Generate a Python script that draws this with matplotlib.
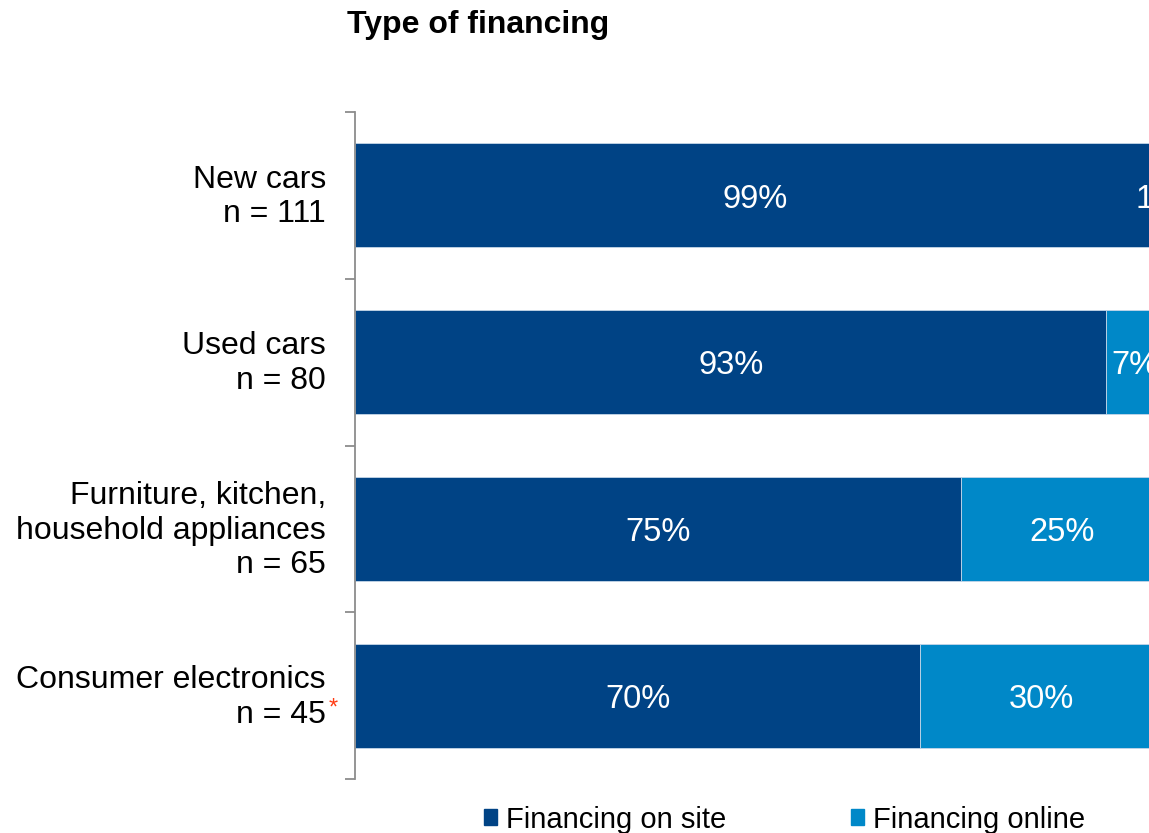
import matplotlib.pyplot as plt
from matplotlib.patches import Patch

plt.rcParams['font.family'] = ['Liberation Sans', 'DejaVu Sans']

categories = ["New cars\nn = 111", "Used cars\nn = 80",
              "Furniture, kitchen,\nhousehold appliances\nn = 65",
              "Consumer electronics\nn = 45"]
on_site = [99, 93, 75, 70]
online = [1, 7, 25, 30]
series_names = ["Financing on site", "Financing online"]

dark_blue = '#004385'
light_blue = '#0088c8'

fig = plt.figure(figsize=(11.49, 8.33), dpi=100)
# axes run past the right edge so the 100% end sits just off the canvas
ax = fig.add_axes([0.309, 0.0648, 0.703, 0.8007])

y = list(range(len(categories)))
ax.barh(y, on_site, height=0.623, color=dark_blue,
        edgecolor='#c5d6e8', linewidth=0.6)
ax.barh(y, online, left=on_site, height=0.623, color=light_blue,
        edgecolor='#c5d6e8', linewidth=0.6)

for i in y:
    ax.text(on_site[i] / 2, i + 0.022, f"{on_site[i]}%", ha='center',
            va='center', color='white', fontsize=23.5)
    ax.text(on_site[i] + online[i] / 2, i + 0.022, f"{online[i]}%",
            ha='center', va='center', color='white', fontsize=23.5)

ax.set_xlim(0, 100)
ax.set_ylim(3.5, -0.5)
ax.set_xticks([])
# label ticks sit a touch above the bar centres
ax.set_yticks([v - 0.025 for v in y])
ax.set_yticklabels(categories, fontsize=23, linespacing=1.2)
ax.tick_params(axis='y', which='major', length=0, pad=21)
ax.set_yticks([-0.5, 0.5, 1.5, 2.5, 3.5], minor=True)
ax.tick_params(axis='y', which='minor', length=7.5, width=1.3, color='#8c8c8c')

for side in ['top', 'right', 'bottom']:
    ax.spines[side].set_visible(False)
ax.spines['left'].set_color('#8c8c8c')
ax.spines['left'].set_linewidth(1.3)

# small-sample marker next to the last category
ax.annotate('*', xy=(0, 3), xycoords='data', xytext=(-16, -9.5),
            textcoords='offset points', color='#ff3c14', fontsize=17,
            ha='center', va='center', annotation_clip=False)

fig.text(0.302, 0.96, "Type of financing", fontsize=23, fontweight='bold',
         ha='left', va='baseline')

handles = [Patch(color=dark_blue), Patch(color=light_blue)]
fig.legend(handles, series_names, loc='center left',
           bbox_to_anchor=(0.421, 0.016), ncol=2, frameon=False,
           fontsize=21, handlelength=0.45, handleheight=0.45,
           handletextpad=0.3, columnspacing=4.3, borderpad=0, borderaxespad=0)

fig.savefig('out.png', dpi=100)
